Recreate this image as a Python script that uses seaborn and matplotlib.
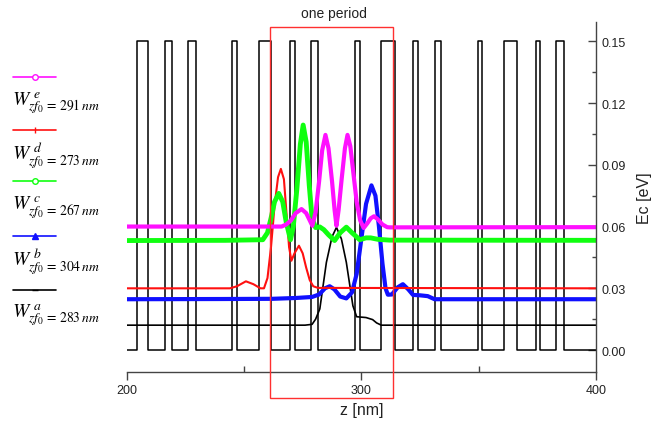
import numpy as np
import pandas as pd
import matplotlib
matplotlib.use("Agg")
import matplotlib.pyplot as plt
from matplotlib.lines import Line2D
from matplotlib.patches import Rectangle
import seaborn as sns

# ---------------- data ----------------
# barrier edges (nm) of the conduction-band profile, height 0.15 eV
barrier_start = [204.3, 216.3, 226.2, 244.7, 256.4, 269.5, 278.7, 297.2, 308.5,
                 322.0, 331.2, 349.6, 360.7, 374.5, 383.0]
barrier_end = [209.2, 219.1, 229.5, 246.8, 261.3, 271.6, 281.5, 299.3, 314.2,
               324.1, 334.0, 351.5, 366.2, 376.2, 386.5]
barrier_height = 0.15

# wavefunctions (z in nm, value in eV)
z_e = [200, 266, 268, 270, 272, 274.5, 276.5, 278, 279.1, 280.5, 282, 283.3, 284.7, 286,
       287.5, 288.6, 289.4, 290.3, 291.6, 293, 294.1, 295.3, 296.7, 298, 299.5, 301, 302.5,
       304, 305.4, 307, 309, 311, 312, 400]
v_e = [0.060, 0.060, 0.061, 0.063, 0.0665, 0.0685, 0.0665, 0.063, 0.0604, 0.067, 0.082,
       0.097, 0.1045, 0.098, 0.082, 0.068, 0.0604, 0.068, 0.083, 0.098, 0.1045, 0.099,
       0.085, 0.072, 0.063, 0.0593, 0.0615, 0.064, 0.065, 0.0635, 0.061, 0.0597, 0.0596,
       0.0597]

z_d = [200, 244, 247, 250.8, 254, 257, 258.5, 260, 261.5, 263, 264.5, 265.7, 267, 268.2,
       269.2, 270.2, 271.5, 273.4, 275, 276.5, 278, 279.5, 281.5, 400]
v_d = [0.030, 0.030, 0.031, 0.0334, 0.032, 0.030, 0.030, 0.035, 0.050, 0.070, 0.084, 0.088,
       0.083, 0.065, 0.050, 0.0434, 0.047, 0.0507, 0.047, 0.040, 0.034, 0.031, 0.0302, 0.030]

z_c = [200, 242, 258, 260, 261.5, 263, 264.8, 266.5, 268, 269.8, 271, 272.5, 274, 275.2,
       276.5, 277.8, 279, 280.5, 282.3, 284, 286, 288.6, 291, 293.6, 296, 299.3, 302, 304,
       307, 312, 400]
v_c = [0.0532, 0.0533, 0.0536, 0.057, 0.064, 0.072, 0.0761, 0.072, 0.062, 0.0536, 0.060,
       0.078, 0.100, 0.1093, 0.101, 0.080, 0.064, 0.0595, 0.0598, 0.0585, 0.056, 0.0532,
       0.057, 0.0597, 0.057, 0.0536, 0.0545, 0.0545, 0.0538, 0.0534, 0.0533]

z_b = [200, 240, 262, 272, 279, 282, 284.5, 286.5, 288.5, 291, 293.6, 296, 298, 300, 302,
       304.3, 306, 307.5, 309, 310.3, 311.3, 313, 315.5, 317.7, 320, 322, 325, 328.3, 331.2,
       400]
v_b = [0.0247, 0.0248, 0.0249, 0.0253, 0.0258, 0.027, 0.030, 0.031, 0.0295, 0.026, 0.0251,
       0.028, 0.037, 0.054, 0.071, 0.080, 0.075, 0.060, 0.042, 0.030, 0.0269, 0.027, 0.0305,
       0.032, 0.0295, 0.0268, 0.0266, 0.0262, 0.0247, 0.0247]

z_a = [200, 276, 279, 280.5, 282.3, 285.1, 287.5, 289.4, 291.5, 293.6, 296.4, 298, 302,
       304.8, 306.5, 308.5, 400]
v_a = [0.0121, 0.0121, 0.0125, 0.015, 0.020, 0.0426, 0.055, 0.0596, 0.054, 0.0426, 0.0215,
       0.0162, 0.0158, 0.0148, 0.0132, 0.0121, 0.0121]

legend_letters = ["e", "d", "c", "b", "a"]
legend_values = ["291", "273", "267", "304", "283"]

period_start, period_end = 260.9, 313.4

# ---------------- figure ----------------
sns.set_theme(style="ticks")
plt.rcParams["font.family"] = ["Liberation Sans", "DejaVu Sans"]
plt.rcParams["mathtext.fontset"] = "stix"

W, H = 667, 427
fig = plt.figure(figsize=(W / 100, H / 100), dpi=100)
fig.patch.set_facecolor("white")
ax = fig.add_axes([126.7 / W, 54.3 / H, (596 - 126.7) / W, (372.7 - 23.3) / H])
ax.set_facecolor("white")

# potential profile built from barrier edges
pz, pv = [200.0], [0.0]
for s, e in zip(barrier_start, barrier_end):
    pz += [s, s, e, e]
    pv += [0.0, barrier_height, barrier_height, 0.0]
pz.append(400.0)
pv.append(0.0)
pot = pd.DataFrame({"z": pz, "v": pv, "o": np.arange(len(pz))})
sns.lineplot(data=pot, x="z", y="v", sort=False, estimator=None, color="black",
             lw=1.1, ax=ax, legend=False)

curves = [
    (z_a, v_a, "black", 1.2),
    (z_b, v_b, "#1010ff", 3.0),
    (z_d, v_d, "#ff1010", 1.5),
    (z_c, v_c, "#10ff10", 3.5),
    (z_e, v_e, "#ff10ff", 3.0),
]
for zz, vv, col, lw in curves:
    df = pd.DataFrame({"z": zz, "v": vv})
    sns.lineplot(data=df, x="z", y="v", sort=False, estimator=None, color=col,
                 lw=lw, ax=ax, legend=False)

ax.set_xlim(200, 400)
ax.set_ylim(-0.0105, 0.1592)

# axes styling
for sp in ["left", "top"]:
    ax.spines[sp].set_visible(False)
for sp in ["right", "bottom"]:
    ax.spines[sp].set_color("#444444")
    ax.spines[sp].set_linewidth(1.0)
ax.yaxis.tick_right()
ax.yaxis.set_label_position("right")
ax.set_yticks([0.00, 0.03, 0.06, 0.09, 0.12, 0.15])
ax.set_yticks(np.arange(0.015, 0.16, 0.03), minor=True)
ax.set_yticklabels(["0.00", "0.03", "0.06", "0.09", "0.12", "0.15"])
ax.set_xticks([200, 300, 400])
ax.set_xticks([250, 350], minor=True)
ax.tick_params(axis="y", which="major", direction="in", length=6, width=1,
               color="#444444", labelsize=9, labelcolor="#222222", pad=4)
ax.tick_params(axis="y", which="minor", direction="in", length=3, width=1,
               color="#444444")
ax.tick_params(axis="x", which="major", direction="out", length=6, width=1,
               color="#444444", labelsize=9, labelcolor="#222222", pad=3)
ax.tick_params(axis="x", which="minor", direction="in", length=4, width=1,
               color="#444444")
ax.set_xlabel("z [nm]", fontsize=11.5, color="#222222", labelpad=4)
ax.set_ylabel("Ec [eV]", fontsize=11.5, color="#222222", labelpad=8)
ax.grid(False)

# "one period" box
rect = Rectangle((period_start, -0.0235), period_end - period_start, 0.1568 + 0.0235,
                 fill=False, edgecolor="#ff3030", lw=1.0, clip_on=False,
                 transform=ax.transData, zorder=5)
ax.add_patch(rect)
ax.text((period_start + period_end) / 2 + 1, 0.1635, "one period", ha="center",
        va="center", fontsize=10, color="#222222")

# left-hand legend
leg_styles = [
    ("#ff10ff", "o", "white", 4),
    ("#ff1010", "|", "#ff1010", 4),
    ("#10ff10", "o", "white", 4),
    ("#1010ff", "^", "#1010ff", 5),
    ("black", "_", "black", 4),
]
line_y = [77.7, 130.7, 181.7, 236.7, 291.0]
text_y = [104, 156, 208, 262, 316]
for i, (col, mk, mfc, ms) in enumerate(leg_styles):
    yl = 1 - line_y[i] / H
    fig.add_artist(Line2D([13 / W, 56 / W], [yl, yl], color=col, lw=1.2,
                          transform=fig.transFigure))
    fig.add_artist(Line2D([34.7 / W], [yl], color=col, marker=mk, mfc=mfc, mec=col,
                          ms=ms, transform=fig.transFigure))
    lab = r"$W^{\;%s}_{zf_0\,=\,%s\,nm}$" % (legend_letters[i], legend_values[i])
    fig.text(12 / W, 1 - text_y[i] / H, lab, fontsize=14, ha="left", va="center",
             color="black")

fig.savefig("out.png", dpi=100, facecolor="white")
